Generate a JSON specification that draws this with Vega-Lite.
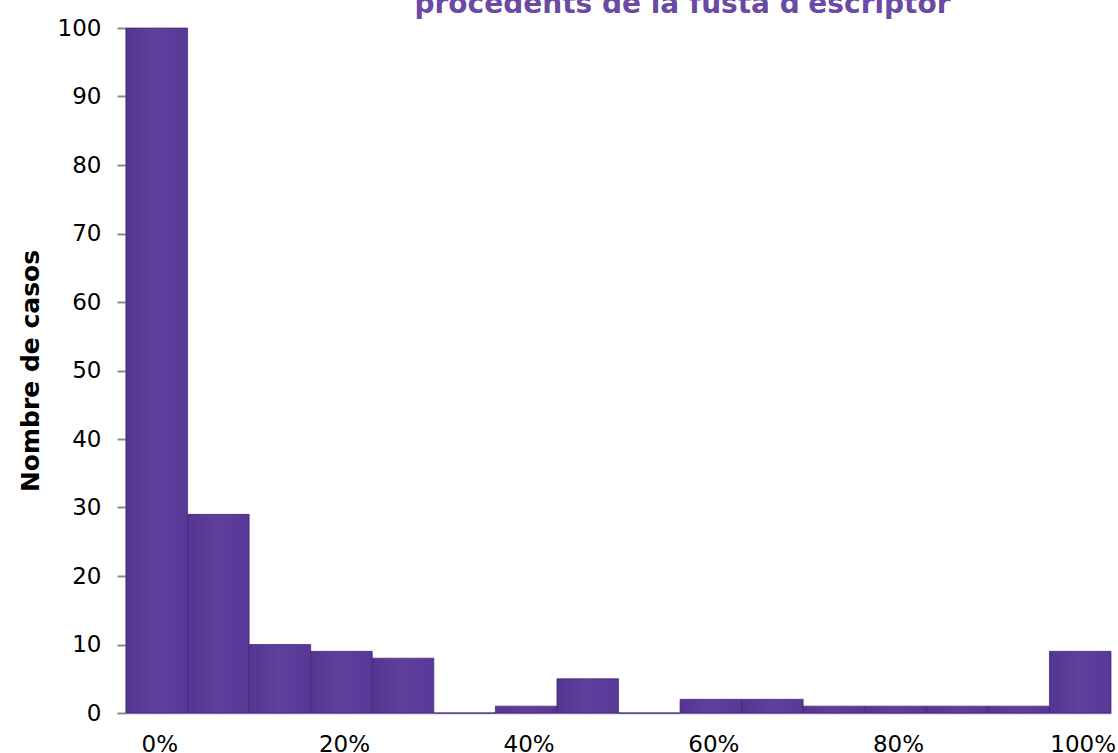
{
  "$schema": "https://vega.github.io/schema/vega-lite/v6.json",
  "width": 985,
  "height": 685,
  "autosize": {"type": "none"},
  "padding": {"left": 126, "top": 28, "right": 7, "bottom": 40},
  "background": "white",
  "title": {
    "text": "procedents de la fusta d'escriptor",
    "frame": "group",
    "anchor": "middle",
    "dx": 64,
    "offset": -24,
    "baseline": "alphabetic",
    "font": "DejaVu Sans",
    "fontSize": 28,
    "fontWeight": "bold",
    "color": "#6a4aa5"
  },
  "data": {
    "values": [
      {"bin": 0, "casos": 100},
      {"bin": 6.667, "casos": 29},
      {"bin": 13.333, "casos": 10},
      {"bin": 20, "casos": 9},
      {"bin": 26.667, "casos": 8},
      {"bin": 33.333, "casos": 0},
      {"bin": 40, "casos": 1},
      {"bin": 46.667, "casos": 5},
      {"bin": 53.333, "casos": 0},
      {"bin": 60, "casos": 2},
      {"bin": 66.667, "casos": 2},
      {"bin": 73.333, "casos": 1},
      {"bin": 80, "casos": 1},
      {"bin": 86.667, "casos": 1},
      {"bin": 93.333, "casos": 1},
      {"bin": 100, "casos": 9}
    ]
  },
  "mark": {
    "type": "bar",
    "stroke": "#3e2470",
    "strokeWidth": 1,
    "strokeOpacity": 0.7,
    "color": {
      "gradient": "linear",
      "x1": 0, "y1": 0, "x2": 1, "y2": 0,
      "stops": [
        {"offset": 0, "color": "#543592"},
        {"offset": 0.5, "color": "#5f409d"},
        {"offset": 1, "color": "#573896"}
      ]
    }
  },
  "encoding": {
    "x": {
      "field": "bin",
      "type": "ordinal",
      "sort": "ascending",
      "scale": {"paddingInner": 0, "paddingOuter": 0},
      "axis": {
        "title": null,
        "values": [0, 20, 40, 60, 80, 100],
        "labelExpr": "datum.value + '%'",
        "labelAngle": 0,
        "labelOffset": 3,
        "ticks": false,
        "domainColor": "#9a88c4",
        "domainWidth": 1.5,
        "labelFont": "DejaVu Sans",
        "labelFontSize": 23,
        "labelColor": "#000000",
        "labelPadding": 20,
        "labelBaseline": "top"
      }
    },
    "y": {
      "field": "casos",
      "type": "quantitative",
      "scale": {"domain": [0, 100]},
      "axis": {
        "title": "Nombre de casos",
        "titleFont": "DejaVu Sans",
        "titleFontSize": 25,
        "titleFontWeight": "bold",
        "titleColor": "#000000",
        "titlePadding": 14,
        "values": [0, 10, 20, 30, 40, 50, 60, 70, 80, 90, 100],
        "grid": false,
        "domainColor": "#8c8c8c",
        "domainWidth": 2,
        "tickColor": "#8c8c8c",
        "tickWidth": 2,
        "tickSize": 9,
        "labelFont": "DejaVu Sans",
        "labelFontSize": 23,
        "labelColor": "#000000",
        "labelPadding": 16
      }
    }
  },
  "config": {"view": {"stroke": null}}
}
